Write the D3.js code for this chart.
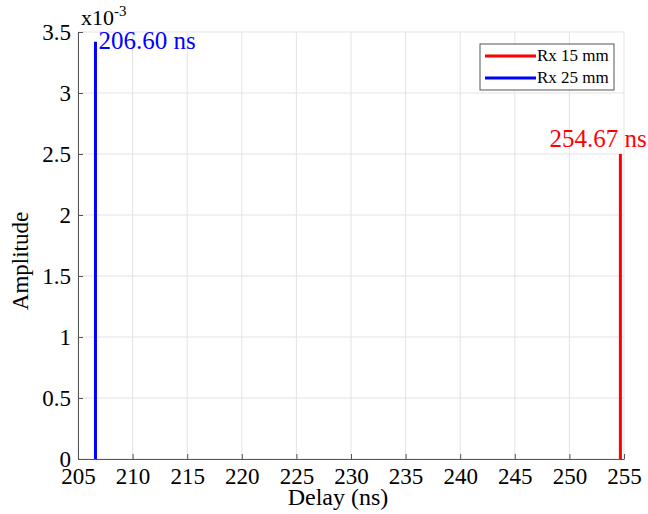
<!DOCTYPE html>
<html>
<head>
<meta charset="utf-8">
<script src="https://cdn.jsdelivr.net/npm/d3@7"></script>
<style>
  body { margin: 0; background: #fff; }
  text { font-family: "Liberation Serif", "Times New Roman", serif; }
</style>
</head>
<body>
<div id="chart"></div>
<script>
// data
const seriesNames = ["Rx 15 mm", "Rx 25 mm"];
const seriesColors = ["#ff0000", "#0000ff"];
const peakDelays = [254.67, 206.60];   // ns
const peakAmps = [2.5, 3.42];          // x10^-3
const peakLabels = ["254.67 ns", "206.60 ns"];
const xTicks = [205, 210, 215, 220, 225, 230, 235, 240, 245, 250, 255];
const yTicks = [0, 0.5, 1, 1.5, 2, 2.5, 3, 3.5];

const width = 648, height = 514;
const margin = { top: 32, right: 24, bottom: 55, left: 78 };
const w = width - margin.left - margin.right;
const h = height - margin.top - margin.bottom;
const serif = "'Liberation Serif', 'Times New Roman', serif";

const svg = d3.select("#chart")
    .append("svg")
    .attr("width", width)
    .attr("height", height);

const g = svg.append("g")
    .attr("transform", "translate(" + margin.left + "," + margin.top + ")");

const x = d3.scaleLinear().domain([205, 255]).range([0, w]);
const y = d3.scaleLinear().domain([0, 3.5]).range([h, 0]);

// grid
g.append("g")
    .selectAll("line")
    .data(xTicks)
    .enter()
    .append("line")
    .attr("x1", d => x(d)).attr("x2", d => x(d))
    .attr("y1", 0).attr("y2", h)
    .attr("stroke", "#e3e3e3").attr("stroke-width", 1);
g.append("g")
    .selectAll("line")
    .data(yTicks)
    .enter()
    .append("line")
    .attr("x1", 0).attr("x2", w)
    .attr("y1", d => y(d)).attr("y2", d => y(d))
    .attr("stroke", "#e3e3e3").attr("stroke-width", 1);

// axes
const xAxis = g.append("g")
    .attr("transform", "translate(0," + h + ")")
    .call(d3.axisBottom(x).tickValues(xTicks).tickSizeInner(-5).tickSizeOuter(0).tickPadding(9));
const yAxis = g.append("g")
    .call(d3.axisLeft(y).tickValues(yTicks).tickFormat(d3.format("~g")).tickSizeInner(-5).tickSizeOuter(0).tickPadding(7));
[xAxis, yAxis].forEach(ax => {
    ax.attr("font-family", serif).attr("font-size", 23);
    ax.select(".domain").attr("stroke", "#555");
    ax.selectAll(".tick line").attr("stroke", "#555");
    ax.selectAll("text").attr("fill", "#000");
});

// peaks
g.append("g")
    .selectAll("line")
    .data(peakDelays)
    .enter()
    .append("line")
    .attr("x1", d => x(d)).attr("x2", d => x(d))
    .attr("y1", h)
    .attr("y2", (d, i) => y(peakAmps[i]))
    .attr("stroke", (d, i) => seriesColors[i])
    .attr("stroke-width", 3);

// peak labels
g.append("text")
    .attr("x", x(peakDelays[1]) + 3)
    .attr("y", y(peakAmps[1]) + 7)
    .attr("fill", seriesColors[1])
    .style("font-size", "25px")
    .text(peakLabels[1]);
g.append("text")
    .attr("x", x(peakDelays[0]) - 71)
    .attr("y", y(peakAmps[0]) - 7)
    .attr("fill", seriesColors[0])
    .style("font-size", "25px")
    .text(peakLabels[0]);

// exponent
const ex = svg.append("text")
    .attr("x", 81)
    .attr("y", 25)
    .style("font-size", "22px");
ex.append("tspan").text("x10");
ex.append("tspan").attr("dy", -9).style("font-size", "15px").text("-3");

// axis titles
svg.append("text")
    .attr("x", 338)
    .attr("y", 505)
    .attr("text-anchor", "middle")
    .style("font-size", "24px")
    .text("Delay (ns)");
svg.append("text")
    .attr("transform", "translate(28," + 261 + ") rotate(-90)")
    .attr("text-anchor", "middle")
    .style("font-size", "23px")
    .text("Amplitude");

// legend
const lg = svg.append("g").attr("transform", "translate(480,44)");
lg.append("rect")
    .attr("width", 134).attr("height", 46)
    .attr("fill", "#fff").attr("stroke", "#555").attr("stroke-width", 1);
seriesNames.forEach((name, i) => {
    lg.append("line")
        .attr("x1", 5).attr("x2", 56)
        .attr("y1", 12 + i * 22).attr("y2", 12 + i * 22)
        .attr("stroke", seriesColors[i]).attr("stroke-width", 3);
    lg.append("text")
        .attr("x", 57).attr("y", 17 + i * 22)
        .style("font-size", "17px")
        .text(name);
});
</script>
</body>
</html>
